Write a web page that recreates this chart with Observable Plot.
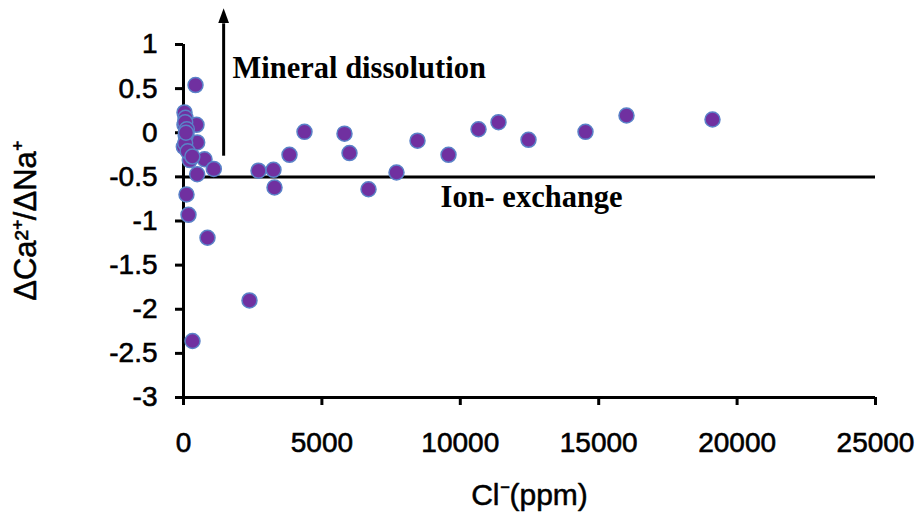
<!DOCTYPE html>
<html>
<head>
<meta charset="utf-8">
<script src="https://cdn.jsdelivr.net/npm/d3@7"></script>
<script src="https://cdn.jsdelivr.net/npm/@observablehq/plot@0.6"></script>
<style>
  html, body { margin: 0; padding: 0; background: #fff; }
  #chart svg { display: block; }
</style>
</head>
<body>
<div id="chart"></div>
<script>
// Cl- (ppm) and ΔCa2+/ΔNa+
const cl = [434, 36, 72, 36, 470, 108, 494, 12, 228, 759, 1095, 494, 108, 180, 867, 2384, 325,
  2710, 3251, 3288, 3829, 4371, 5816, 5997, 6684, 7695, 8454, 9574, 10658, 11380, 12464, 14523, 16004, 19111,
  60, 120, 80, 60, 150, 320, 90];
const ratio = [0.54, 0.23, 0.17, 0.09, 0.09, -0.01, -0.11, -0.16, -0.31, -0.30, -0.41, -0.47, -0.70, -0.93, -1.19, -1.90, -2.36,
  -0.43, -0.42, -0.62, -0.25, 0.01, -0.01, -0.23, -0.64, -0.45, -0.09, -0.25, 0.04, 0.12, -0.08, 0.01, 0.195, 0.15,
  0.12, 0.04, -0.03, -0.12, -0.21, -0.27, 0.0];
const xTicks = [0, 5000, 10000, 15000, 20000, 25000];
const yTicks = [1, 0.5, 0, -0.5, -1, -1.5, -2, -2.5, -3];
const ionLine = -0.5;
const arrowX = 1450, arrowFrom = -0.26, arrowTo = 1.24;
const labels = {
  mineral: {text: "Mineral dissolution", x: 1770, y: 0.73},
  ion: {text: "Ion- exchange", x: 9285, y: -0.73}
};
const xTitle = "Cl\u207B(ppm)";
const yTitle = "\u0394Ca\u00B2\u207A/\u0394Na\u207A";

const data = cl.map((c, i) => ({cl: c, r: ratio[i]}));

const arrowHead = (color) => {
  const m = d3.create("svg:marker")
    .attr("viewBox", "0 -5.5 15 11")
    .attr("markerWidth", 15)
    .attr("markerHeight", 11)
    .attr("markerUnits", "userSpaceOnUse")
    .attr("refX", 0)
    .attr("refY", 0)
    .attr("orient", "auto");
  m.append("path").attr("d", "M0,-5.5L15,0L0,5.5Z").attr("fill", color).attr("stroke", "none");
  return m.node();
};

const sans = "'Liberation Sans', Arial, sans-serif";
const serif = "'Liberation Serif', 'Times New Roman', serif";

const chart = Plot.plot({
  width: 921,
  height: 518,
  marginLeft: 183,
  marginRight: 46,
  marginTop: 44,
  marginBottom: 121,
  style: {fontFamily: sans, fontSize: "28px", color: "#000", background: "#fff"},
  x: {domain: [0, 25000]},
  y: {domain: [-3, 1]},
  marks: [
    Plot.axisX({ticks: xTicks, tickSize: 8, tickPadding: 27, strokeWidth: 3, fontSize: 28, label: null, tickFormat: d => String(d)}),
    Plot.axisY({ticks: yTicks, tickSize: 8, tickPadding: 18, strokeWidth: 3, fontSize: 28, label: null, tickFormat: d => String(d)}),
    Plot.ruleX([0], {y1: -3, y2: 1, stroke: "#000", strokeWidth: 3}),
    Plot.ruleY([-3], {x1: 0, x2: 25000, stroke: "#000", strokeWidth: 3}),
    Plot.ruleY([ionLine], {x1: 0, x2: 25000, stroke: "#000", strokeWidth: 3}),
    Plot.link([{x: arrowX, y1: arrowFrom, y2: arrowTo}], {x1: "x", x2: "x", y1: "y1", y2: "y2", stroke: "#000", strokeWidth: 3, markerEnd: arrowHead}),
    Plot.dot(data, {x: "cl", y: "r", r: 7.5, fill: "#7030A0", stroke: "#5A82C8", strokeWidth: 1.5}),
    Plot.text([labels.mineral], {x: "x", y: "y", text: "text", textAnchor: "start", fontFamily: serif, fontWeight: "bold", fontSize: 30.5, fill: "#000"}),
    Plot.text([labels.ion], {x: "x", y: "y", text: "text", textAnchor: "start", fontFamily: serif, fontWeight: "bold", fontSize: 30.5, fill: "#000"}),
    Plot.text([xTitle], {frameAnchor: "bottom", dy: 98, lineAnchor: "middle", textAnchor: "middle", fontFamily: sans, fontSize: 30, fill: "#000", stroke: "#000", strokeWidth: 0.5}),
    Plot.text([yTitle], {frameAnchor: "left", dx: -157, rotate: -90, textAnchor: "middle", lineAnchor: "middle", fontFamily: sans, fontSize: 31, fill: "#000", stroke: "#000", strokeWidth: 0.5})
  ]
});
d3.select(chart).selectAll("g[aria-label$='tick label'] text")
  .style("stroke", "#000").style("stroke-width", "0.6px");
document.getElementById("chart").appendChild(chart);
</script>
</body>
</html>
